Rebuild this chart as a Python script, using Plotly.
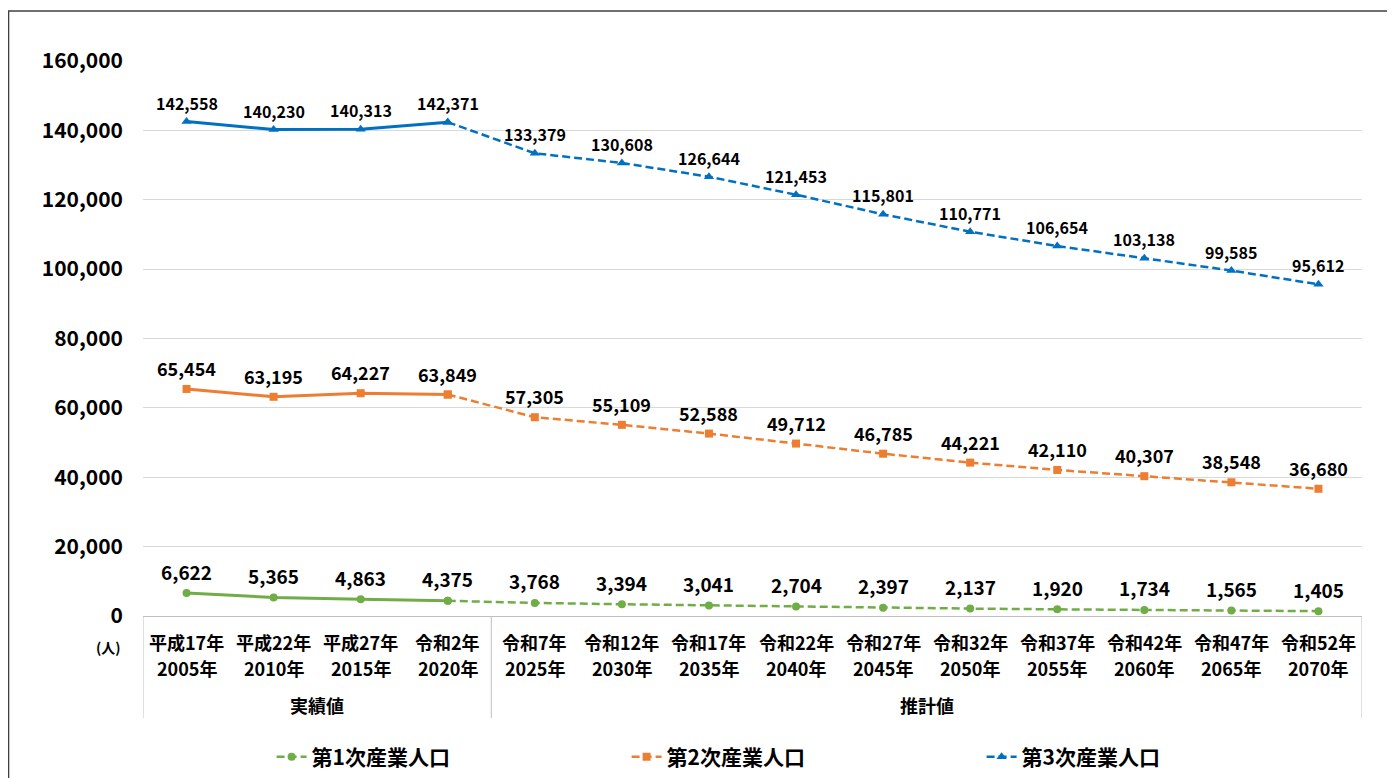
import plotly.graph_objects as go

era_labels = ["平成17年", "平成22年", "平成27年", "令和2年", "令和7年", "令和12年", "令和17年",
              "令和22年", "令和27年", "令和32年", "令和37年", "令和42年", "令和47年", "令和52年"]
year_labels = ["2005年", "2010年", "2015年", "2020年", "2025年", "2030年", "2035年",
               "2040年", "2045年", "2050年", "2055年", "2060年", "2065年", "2070年"]
group_names = ["実績値", "推計値"]
group_sizes = [4, 10]

primary = [6622, 5365, 4863, 4375, 3768, 3394, 3041, 2704, 2397, 2137, 1920, 1734, 1565, 1405]
secondary = [65454, 63195, 64227, 63849, 57305, 55109, 52588, 49712, 46785, 44221, 42110, 40307, 38548, 36680]
tertiary = [142558, 140230, 140313, 142371, 133379, 130608, 126644, 121453, 115801, 110771, 106654, 103138, 99585, 95612]

series_names = ["第1次産業人口", "第2次産業人口", "第3次産業人口"]
y_ticks = [0, 20000, 40000, 60000, 80000, 100000, 120000, 140000, 160000]

FONT = "Noto Sans CJK JP"
colors = ["#70AD47", "#ED7D31", "#0070C0"]
symbols = ["circle", "square", "triangle-up"]
msizes = [8, 8, 9]
label_sizes = [19, 18, 16]
label_shift = [22, 21, 19]

n_actual = group_sizes[0]
x_idx = list(range(len(era_labels)))

fig = go.Figure()
annotations = []
for s, vals in enumerate([primary, secondary, tertiary]):
    fig.add_trace(go.Scatter(
        x=x_idx[:n_actual], y=vals[:n_actual], mode="lines+markers",
        line=dict(color=colors[s], width=3),
        marker=dict(symbol=symbols[s], size=msizes[s], color=colors[s]),
        showlegend=False, hoverinfo="skip"))
    fig.add_trace(go.Scatter(
        x=x_idx[n_actual - 1:], y=vals[n_actual - 1:], mode="lines+markers",
        name=f"<b>{series_names[s]}</b>",
        line=dict(color=colors[s], width=2.5, dash="8px,4px"),
        marker=dict(symbol=symbols[s], size=msizes[s], color=colors[s])))
    for i, v in enumerate(vals):
        annotations.append(dict(
            x=i, y=v, xref="x", yref="y", text=f"<b>{v:,}</b>", showarrow=False,
            yshift=label_shift[s], font=dict(family=FONT, size=label_sizes[s], color="#000000")))

# two-row category labels
for i in x_idx:
    annotations.append(dict(x=i, y=0, xref="x", yref="paper", yanchor="middle",
                            text=f"<b>{era_labels[i]}</b>", showarrow=False, yshift=-26,
                            font=dict(family=FONT, size=18, color="#000000")))
    annotations.append(dict(x=i, y=0, xref="x", yref="paper", yanchor="middle",
                            text=f"<b>{year_labels[i]}</b>", showarrow=False, yshift=-52,
                            font=dict(family=FONT, size=18, color="#000000")))

# groups
shapes = []
start = -0.5
bounds = [start]
for g, size in enumerate(group_sizes):
    mid = start + size / 2
    annotations.append(dict(x=mid, y=0, xref="x", yref="paper", yanchor="middle",
                            text=f"<b>{group_names[g]}</b>", showarrow=False, yshift=-89,
                            font=dict(family=FONT, size=18, color="#000000")))
    start += size
    bounds.append(start)
for b in bounds:
    shapes.append(dict(type="line", xref="x", yref="paper", x0=b, x1=b, y0=0, y1=-0.184,
                       line=dict(color="#BFBFBF", width=1)))

annotations.append(dict(x=-0.0164, y=0, xref="paper", yref="paper", yanchor="middle", xanchor="right",
                        text="<b>(人)</b>", showarrow=False, yshift=-31,
                        font=dict(family=FONT, size=14, color="#000000")))

# outer border
shapes.append(dict(type="rect", xref="paper", yref="paper", x0=-0.1103, x1=1.0246, y0=-0.35, y1=1.09,
                   line=dict(color="#404040", width=1.5), layer="below"))

fig.update_layout(
    width=1387, height=770,
    margin=dict(l=135, r=33, t=53, b=162),
    paper_bgcolor="white", plot_bgcolor="white",
    font=dict(family=FONT, color="#000000"),
    xaxis=dict(range=[-0.5, len(era_labels) - 0.5], showticklabels=False, showgrid=False,
               zeroline=False, showline=True, linecolor="#BFBFBF", linewidth=1, ticks=""),
    yaxis=dict(range=[0, 160000], tickvals=y_ticks, ticktext=[f"<b>{t:,}</b>" for t in y_ticks],
               tickfont=dict(family=FONT, size=21, color="#000000"), showgrid=True,
               gridcolor="#D9D9D9", gridwidth=1, zeroline=False, showline=False,
               ticklabelstandoff=19, fixedrange=True),
    legend=dict(orientation="h", x=0.1055, xanchor="left", yref="container", y=0.0273, yanchor="middle",
                font=dict(family=FONT, size=21, color="#000000"), entrywidth=310,
                bgcolor="rgba(0,0,0,0)"),
    annotations=annotations, shapes=shapes,
)

fig.write_html("out.html")
